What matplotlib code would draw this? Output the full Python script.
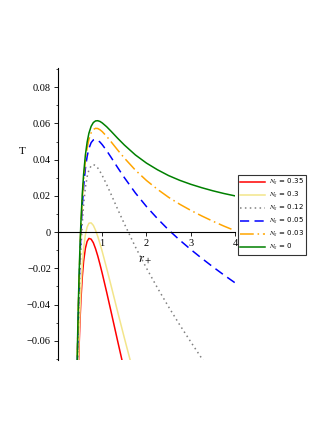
import numpy as np
import matplotlib
matplotlib.use("Agg")
import matplotlib.pyplot as plt

plt.rcParams["mathtext.fontset"] = "stix"

# horizon radius samples
r_plus = [0.42, 0.44, 0.46, 0.48, 0.50, 0.52, 0.55, 0.58, 0.62, 0.66, 0.70,
          0.75, 0.80, 0.85, 0.90, 0.95, 1.0, 1.1, 1.2, 1.35, 1.5, 1.75, 2.0,
          2.25, 2.5, 2.75, 3.0, 3.25, 3.5, 3.75, 4.0]

# temperature, one list per N_g
T_000 = [-0.0921, -0.0636, -0.0406, -0.0219, -0.0066, 0.0060, 0.0208, 0.0319,
         0.0425, 0.0497, 0.0546, 0.0584, 0.0605, 0.0614, 0.0615, 0.0611,
         0.0603, 0.0582, 0.0557, 0.0518, 0.0481, 0.0426, 0.0381, 0.0344,
         0.0312, 0.0286, 0.0264, 0.0245, 0.0228, 0.0213, 0.0200]
T_003 = [-0.0941, -0.0657, -0.0428, -0.0242, -0.0090, 0.0035, 0.0182, 0.0291,
         0.0395, 0.0465, 0.0512, 0.0548, 0.0567, 0.0573, 0.0572, 0.0565,
         0.0555, 0.0529, 0.0499, 0.0453, 0.0409, 0.0342, 0.0285, 0.0236,
         0.0192, 0.0154, 0.0120, 0.0089, 0.0060, 0.0033, 0.0008]
T_005 = [-0.0971, -0.0689, -0.0461, -0.0277, -0.0126, -0.0002, 0.0142, 0.0249,
         0.0351, 0.0418, 0.0462, 0.0494, 0.0509, 0.0512, 0.0507, 0.0497,
         0.0483, 0.0450, 0.0413, 0.0356, 0.0301, 0.0216, 0.0141, 0.0074,
         0.0012, -0.0044, -0.0096, -0.0145, -0.0192, -0.0237, -0.0280]
T_012 = [-0.1043, -0.0764, -0.0539, -0.0358, -0.0211, -0.0091, 0.0048, 0.0151,
         0.0245, 0.0306, 0.0343, 0.0366, 0.0373, 0.0367, 0.0354, 0.0335,
         0.0313, 0.0263, 0.0209, 0.0126, 0.0046, -0.0082, -0.0199, -0.0309,
         -0.0413, -0.0512, -0.0606, -0.0698, -0.0787]
T_030 = [-0.1219, -0.0948, -0.0733, -0.0560, -0.0421, -0.0309, -0.0183, -0.0093,
         -0.0015, 0.0028, 0.0049, 0.0051, 0.0037, 0.0010, -0.0024, -0.0064,
         -0.0107, -0.0199, -0.0295, -0.0441, -0.0584, -0.0817]
T_035 = [-0.1270, -0.1001, -0.0788, -0.0617, -0.0481, -0.0372, -0.0249, -0.0162,
         -0.0090, -0.0051, -0.0035, -0.0039, -0.0059, -0.0092, -0.0132, -0.0178,
         -0.0227, -0.0331, -0.0439, -0.0603, -0.0764]

fig = plt.figure(figsize=(3.31, 4.29), dpi=100)
ax = fig.add_axes([0.175, 0.161, 0.535, 0.68])

lw = 1.1
ax.plot(r_plus[:len(T_035)], T_035, color="#ff0000", lw=lw, label=r"$N_g$ = 0.35")
ax.plot(r_plus[:len(T_030)], T_030, color="#f3e58a", lw=lw, label=r"$N_g$ = 0.3")
ax.plot(r_plus[:len(T_012)], T_012, color="#808080", lw=lw, linestyle=(0, (1, 2.2)),
        label=r"$N_g$ = 0.12")
ax.plot(r_plus, T_005, color="#0000ff", lw=lw, linestyle=(0, (6, 3.5)),
        label=r"$N_g$ = 0.05")
ax.plot(r_plus, T_003, color="#ffa500", lw=lw, linestyle=(0, (9, 2.5, 1, 2.5)),
        label=r"$N_g$ = 0.03")
ax.plot(r_plus, T_000, color="#008000", lw=lw, label=r"$N_g$ = 0")

ax.set_xlim(0, 4)
ax.set_ylim(-0.0706, 0.0905)

ax.spines["right"].set_visible(False)
ax.spines["top"].set_visible(False)
ax.spines["bottom"].set_position(("data", 0))
ax.spines["left"].set_linewidth(0.8)
ax.spines["bottom"].set_linewidth(0.8)

ax.set_xticks([1, 2, 3, 4])
ax.set_xticklabels(["1", "2", "3", "4"])
yt = [-0.06, -0.04, -0.02, 0, 0.02, 0.04, 0.06, 0.08]
ax.set_yticks(yt)
ax.set_yticklabels(["\u22120.06", "\u22120.04", "\u22120.02", "0",
                    "0.02", "0.04", "0.06", "0.08"])
ax.set_yticks(np.arange(-0.07, 0.091, 0.01), minor=True)
ax.tick_params(axis="both", which="major", length=3, width=0.6, labelsize=7.5,
               pad=2)
ax.tick_params(axis="y", which="minor", length=1.5, width=0.5)
for lab in ax.get_xticklabels() + ax.get_yticklabels():
    lab.set_fontfamily("Liberation Serif")

ax.text(1.97, -0.0115, r"$r_+$", fontsize=9, ha="center", va="top")
fig.text(0.066, 0.646, "T", fontsize=8, family="Liberation Serif",
         ha="center", va="center")

leg = ax.legend(loc="upper left", bbox_to_anchor=(1.017, 0.634), fontsize=5,
                handlelength=3.6, handletextpad=0.5, borderpad=0.3,
                labelspacing=0.25, frameon=True, fancybox=False,
                borderaxespad=0)
leg.get_frame().set_edgecolor("black")
leg.get_frame().set_linewidth(0.8)

fig.savefig("out.png", dpi=100)
